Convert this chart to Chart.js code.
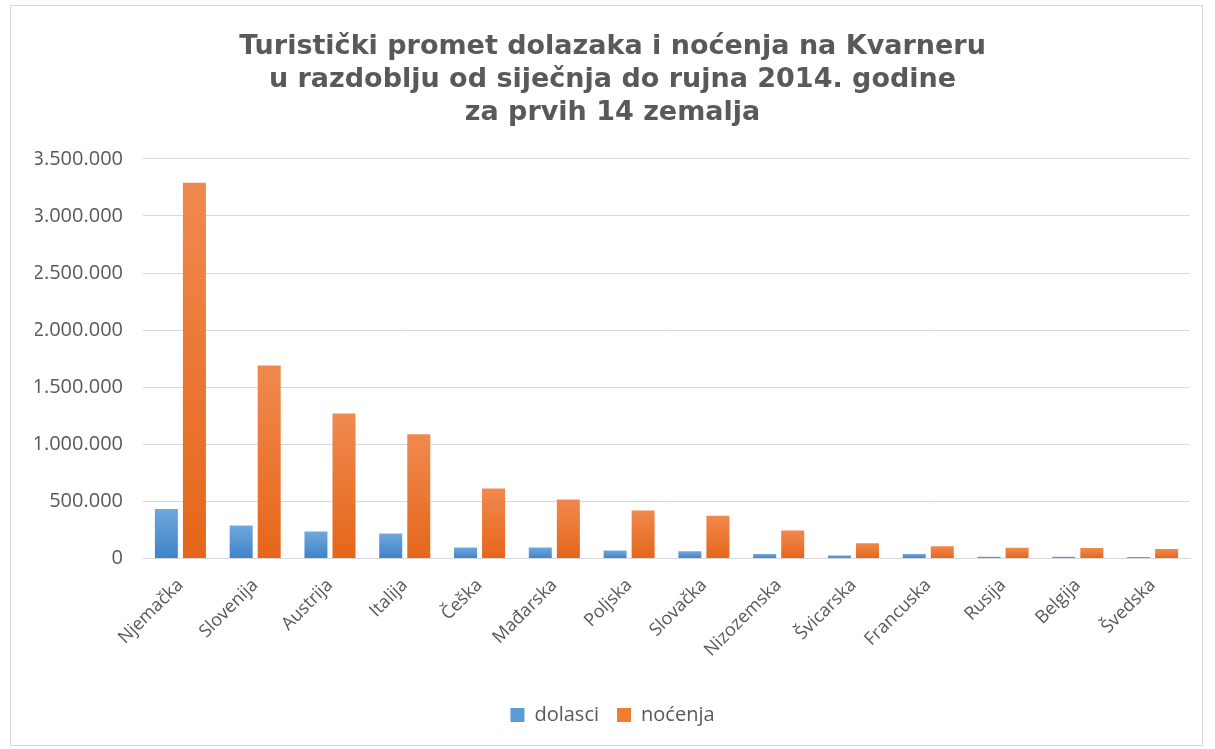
<!DOCTYPE html>
<html>
<head>
<meta charset="utf-8">
<script src="https://cdn.jsdelivr.net/npm/chart.js@4"></script>
<style>
  html, body { margin: 0; padding: 0; background: #fff; }
  .frame {
    position: absolute; left: 10px; top: 5px;
    width: 1193px; height: 741px;
    border: 1px solid #d9d9d9; box-sizing: border-box;
  }
  .frame canvas { display: block; }
</style>
</head>
<body>
<div class="frame"><canvas id="chart"></canvas></div>
<script>
const countries = ["Njemačka", "Slovenija", "Austrija", "Italija", "Češka", "Mađarska", "Poljska",
  "Slovačka", "Nizozemska", "Švicarska", "Francuska", "Rusija", "Belgija", "Švedska"];
const dolasci = [435000, 290000, 237000, 219000, 96000, 96000, 70000,
  65000, 40000, 28000, 40000, 15000, 15000, 14000];
const nocenja = [3290000, 1690000, 1270000, 1088000, 614000, 518000, 421000,
  375000, 246000, 135000, 108000, 95000, 92000, 84000];

const fmt = (v) => v.toLocaleString("de-DE");

// excel-ish vertical gradient per bar
function barGradient(light, dark, solid) {
  return (c) => {
    const chart = c.chart;
    const area = chart.chartArea;
    if (!area || c.raw == null) return solid;
    const top = chart.scales.y.getPixelForValue(c.raw);
    const g = chart.ctx.createLinearGradient(0, top, 0, area.bottom);
    g.addColorStop(0, light);
    g.addColorStop(1, dark);
    return g;
  };
}

new Chart(document.getElementById("chart"), {
  type: "bar",
  data: {
    labels: countries,
    datasets: [
      {
        label: "dolasci",
        data: dolasci,
        backgroundColor: barGradient("#6fa8dc", "#3f82c7", "#5b9bd5"),
        barPercentage: 0.82,
        categoryPercentage: 0.75,
      },
      {
        label: "noćenja",
        data: nocenja,
        backgroundColor: barGradient("#f0894e", "#e5661a", "#ed7d31"),
        barPercentage: 0.82,
        categoryPercentage: 0.75,
      },
    ],
  },
  options: {
    responsive: true,
    maintainAspectRatio: false,
    animation: false,
    layout: { padding: { left: 24, right: 12, top: 25, bottom: 10 } },
    plugins: {
      title: {
        display: true,
        text: ["Turistički promet dolazaka i noćenja na Kvarneru",
          "u razdoblju od siječnja do rujna 2014. godine",
          "za prvih 14 zemalja"],
        color: "#595959",
        font: { family: "DejaVu Sans", size: 27, weight: "bold", lineHeight: 1.22 },
        padding: { top: 0, bottom: 29 },
      },
      legend: {
        position: "bottom",
        // empty title only used as a spacer above the legend row
        title: { display: true, text: " ", font: { size: 10 }, padding: { top: 0, bottom: 6 } },
        labels: {
          color: "#595959",
          font: { family: "Open Sans", size: 20 },
          boxWidth: 14,
          boxHeight: 14,
          padding: 18,
          generateLabels: (chart) => chart.data.datasets.map((ds, i) => ({
            text: ds.label,
            fillStyle: i === 0 ? "#5b9bd5" : "#ed7d31",
            strokeStyle: "transparent",
            lineWidth: 0,
            datasetIndex: i,
            fontColor: "#595959",
          })),
        },
      },
      tooltip: { enabled: false },
    },
    scales: {
      x: {
        grid: { display: false },
        border: { color: "#d9d9d9" },
        ticks: {
          color: "#595959",
          font: { family: "Open Sans", size: 18 },
          maxRotation: 45,
          minRotation: 45,
          padding: 8,
        },
      },
      y: {
        min: 0,
        max: 3500000,
        grid: { color: "#d9d9d9", drawTicks: false },
        border: { display: false },
        afterFit: (scale) => { scale.width = 108; },
        ticks: {
          stepSize: 500000,
          color: "#595959",
          font: { family: "Open Sans", size: 20 },
          padding: 20,
          callback: (v) => fmt(v),
        },
      },
    },
  },
});
</script>
</body>
</html>
